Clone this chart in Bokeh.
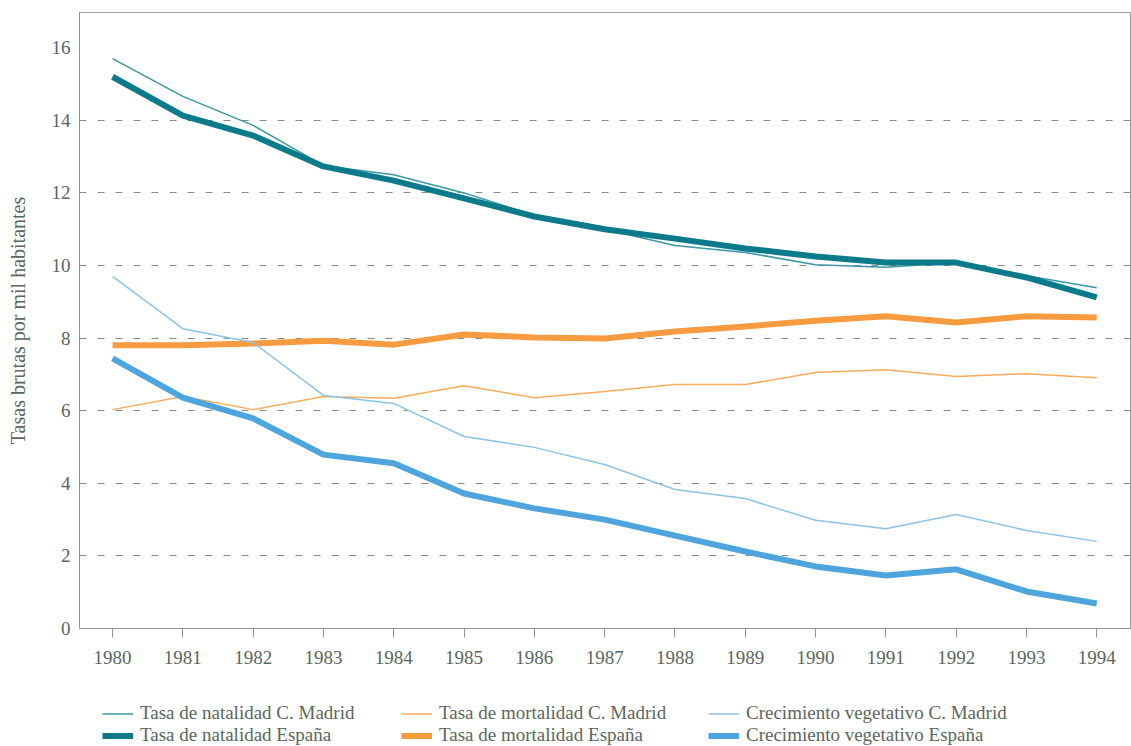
from bokeh.plotting import figure
from bokeh.models import FixedTicker, Range1d, Legend, LegendItem
from bokeh.layouts import column
from bokeh.embed import file_html
from bokeh.resources import INLINE

years = list(range(1980, 1995))
nat_madrid = [15.70, 14.66, 13.86, 12.75, 12.50, 12.00, 11.38, 11.00, 10.55, 10.36, 10.02, 9.95, 10.08, 9.72, 9.39]
nat_espana = [15.20, 14.13, 13.58, 12.73, 12.34, 11.85, 11.35, 11.00, 10.74, 10.47, 10.25, 10.08, 10.08, 9.67, 9.12]
mor_madrid = [6.03, 6.39, 6.03, 6.39, 6.34, 6.69, 6.36, 6.53, 6.72, 6.72, 7.05, 7.13, 6.94, 7.02, 6.91]
mor_espana = [7.80, 7.80, 7.85, 7.93, 7.82, 8.10, 8.02, 7.99, 8.18, 8.32, 8.48, 8.60, 8.43, 8.60, 8.57]
crec_madrid = [9.70, 8.26, 7.88, 6.42, 6.20, 5.29, 4.99, 4.52, 3.83, 3.58, 2.98, 2.75, 3.14, 2.70, 2.40]
crec_espana = [7.44, 6.36, 5.79, 4.79, 4.55, 3.72, 3.31, 3.00, 2.56, 2.12, 1.71, 1.46, 1.63, 1.02, 0.69]

labels = [
    "Tasa de natalidad C. Madrid", "Tasa de natalidad España",
    "Tasa de mortalidad C. Madrid", "Tasa de mortalidad España",
    "Crecimiento vegetativo C. Madrid", "Crecimiento vegetativo España",
]
y_ticks = [0, 2, 4, 6, 8, 10, 12, 14, 16]
grid_ticks = [2, 4, 6, 8, 10, 12, 14]
y_label = "Tasas brutas por mil habitantes"

FONT = "Liberation Serif"
TXT = "#5b665e"

styles = [
    ("#3b97a6", 1.5),
    ("#0b7b8c", 6),
    ("#f7ad5c", 1.5),
    ("#f79b40", 6),
    ("#8cc3e6", 1.5),
    ("#4ea5dd", 6),
]
series = [nat_madrid, nat_espana, mor_madrid, mor_espana, crec_madrid, crec_espana]

p = figure(width=1131, height=672, output_backend="svg", toolbar_location=None,
           min_border_left=79, min_border_right=1, min_border_top=12, min_border_bottom=44,
           x_range=Range1d(1979.53, 1994.48), y_range=Range1d(0, 16.97))

p.outline_line_color = "#9a9f98"
p.outline_line_width = 1

p.xgrid.visible = False
p.ygrid.ticker = FixedTicker(ticks=grid_ticks)
p.ygrid.grid_line_color = "#8a8a8a"
p.ygrid.grid_line_dash = "7 11"
p.ygrid.grid_line_width = 1

p.xaxis.ticker = FixedTicker(ticks=years)
p.yaxis.ticker = FixedTicker(ticks=y_ticks)
for ax in (p.xaxis, p.yaxis):
    ax.axis_line_color = "#8e948c"
    ax.major_tick_line_color = "#8e948c"
    ax.minor_tick_line_color = None
    ax.major_label_text_font = FONT
    ax.major_label_text_font_size = "19px"
    ax.major_label_text_color = TXT
    ax.major_tick_in = 0
p.xaxis.major_tick_out = 9
p.xaxis.major_label_standoff = 13
p.yaxis.major_tick_out = 0
p.yaxis.major_label_standoff = 9
p.yaxis.axis_label = y_label
p.yaxis.axis_label_text_font = FONT
p.yaxis.axis_label_text_font_size = "20px"
p.yaxis.axis_label_text_font_style = "normal"
p.yaxis.axis_label_text_color = TXT
p.yaxis.axis_label_standoff = 20

for vals, (col, w) in zip(series, styles):
    p.line(years, vals, line_color=col, line_width=w, line_join="round")

# legend strip below the chart (its lines lie outside this strip's view; only the legend shows)
q = figure(width=1131, height=74, output_backend="svg", toolbar_location=None,
           min_border_left=0, min_border_right=0, min_border_top=0, min_border_bottom=0,
           x_axis_type=None, y_axis_type=None, x_range=Range1d(0, 1), y_range=Range1d(0, 1))
q.outline_line_color = None
q.grid.visible = False
leg_renderers = [q.line(years, vals, line_color=col, line_width=w)
                 for vals, (col, w) in zip(series, styles)]

col_x = [23, 322, 629]
for i in range(3):
    items = [LegendItem(label=labels[2 * i], renderers=[leg_renderers[2 * i]]),
             LegendItem(label=labels[2 * i + 1], renderers=[leg_renderers[2 * i + 1]])]
    leg = Legend(items=items, location=(col_x[i], 0), orientation="vertical",
                 padding=0, spacing=0, margin=0, glyph_width=31, glyph_height=19,
                 label_height=19, label_standoff=7,
                 label_text_font=FONT, label_text_font_size="19px", label_text_color=TXT,
                 border_line_color=None, background_fill_alpha=0)
    q.add_layout(leg)

open("out.html", "w").write(file_html(column(p, q, spacing=0), INLINE))
